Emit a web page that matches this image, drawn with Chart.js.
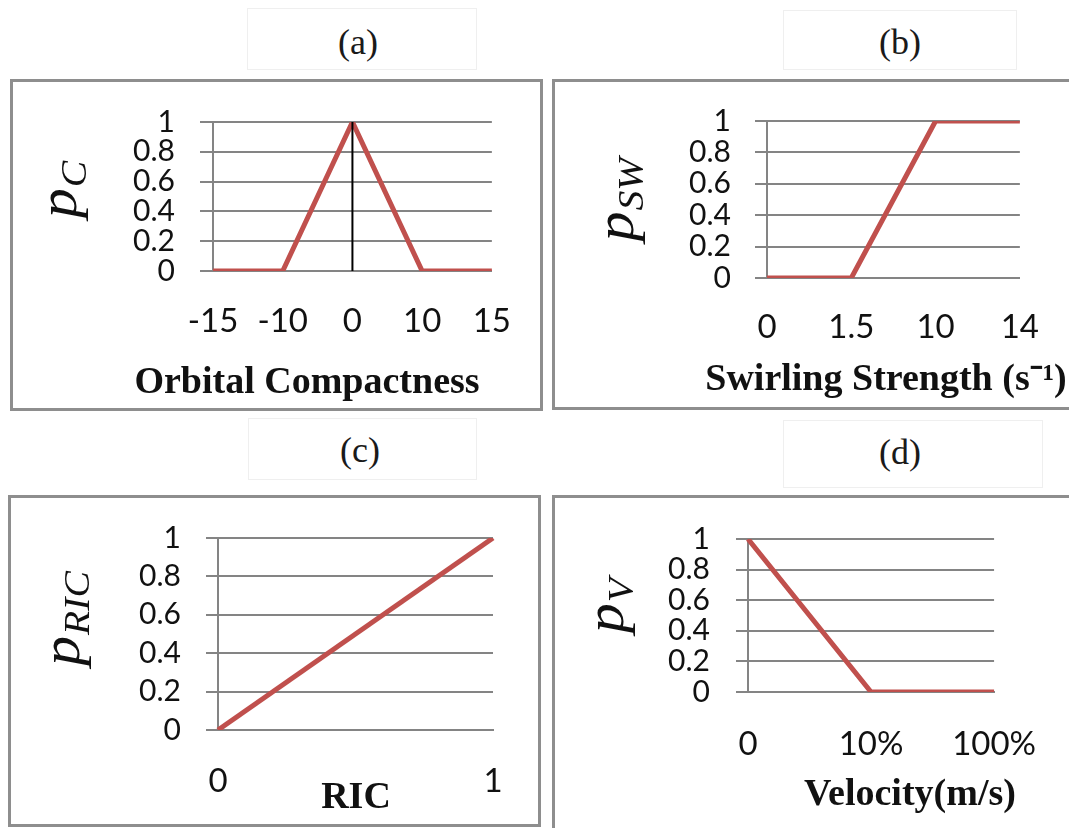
<!DOCTYPE html>
<html>
<head>
<meta charset="utf-8">
<script src="https://cdn.jsdelivr.net/npm/chart.js@4.4.1/dist/chart.umd.min.js"></script>
<style>
  html, body { margin: 0; padding: 0; background: #fff; width: 1069px; height: 828px; overflow: hidden; position: relative; }
  .cv { position: absolute; }
  .frame { position: absolute; box-sizing: border-box; border: 3px solid #8e8e8e; pointer-events: none; }
  .faint { position: absolute; box-sizing: border-box; border: 1px solid #efefef; }
  .lab { position: absolute; font-family: "Liberation Serif", "Times New Roman", serif; font-size: 36px; color: #1a1a1a;
         transform: translate(-50%, -50%); white-space: nowrap; line-height: 1; }
</style>
</head>
<body>
<div class="faint" style="left:247px;top:8px;width:230px;height:62px;"></div>
<div class="faint" style="left:783px;top:10px;width:234px;height:60px;"></div>
<div class="faint" style="left:248px;top:418px;width:229px;height:62px;"></div>
<div class="faint" style="left:783px;top:420px;width:260px;height:68px;"></div>
<div class="lab" style="left:358px;top:42px;">(a)</div>
<div class="lab" style="left:900px;top:42px;">(b)</div>
<div class="lab" style="left:360px;top:450px;">(c)</div>
<div class="lab" style="left:900px;top:452px;">(d)</div>

<canvas id="cA" class="cv" style="left:10px;top:79px;" width="532" height="331"></canvas>
<canvas id="cB" class="cv" style="left:552px;top:79px;" width="517" height="330"></canvas>
<canvas id="cC" class="cv" style="left:8px;top:495px;" width="532" height="331"></canvas>
<canvas id="cD" class="cv" style="left:552px;top:495px;" width="517" height="333"></canvas>

<div class="frame" style="left:10px;top:79px;width:533px;height:332px;"></div>
<div class="frame" style="left:552px;top:79px;width:540px;height:331px;"></div>
<div class="frame" style="left:8px;top:495px;width:533px;height:332px;"></div>
<div class="frame" style="left:552px;top:495px;width:540px;height:360px;"></div>

<script>
// ---------- data ----------
const yTickLabels = ['0', '0.2', '0.4', '0.6', '0.8', '1'];

const compactnessLabels = ['-15', '-10', '0', '10', '15'];
const compactnessP = [0, 0, 1, 0, 0];
const compactnessMarkX = ['0', '0'];
const compactnessMarkY = [0, 1];

const swirlLabels = ['0', '1.5', '10', '14'];
const swirlP = [0, 0, 1, 1];

const ricLabels = ['0', '1'];
const ricP = [0, 1];

const velocityLabels = ['0', '10%', '100%'];
const velocityP = [1, 0, 0];

// ---------- styling ----------
const RED = '#c0504d';
const GRID = '#848484';

const textPlugin = {
  id: 'panelText',
  afterDraw(chart, args, o) {
    const ctx = chart.ctx;
    // x-axis title
    ctx.save();
    ctx.font = 'bold 38px "Liberation Serif", "Times New Roman", serif';
    ctx.fillStyle = '#111';
    ctx.textAlign = 'center';
    ctx.textBaseline = 'middle';
    ctx.fillText(o.xTitle, o.xTitleX, o.xTitleY);
    ctx.restore();
    // y-axis title with subscript, rotated
    ctx.save();
    ctx.translate(o.yTitleX, o.yTitleY);
    ctx.rotate(-Math.PI / 2);
    ctx.scale(1.1, 1);
    ctx.fillStyle = '#111';
    ctx.textBaseline = 'alphabetic';
    ctx.textAlign = 'left';
    const size = 54, sub = 36;
    const mainFont = 'italic ' + size + 'px "Liberation Serif", "Times New Roman", serif';
    const subFont = 'italic ' + sub + 'px "Liberation Serif", "Times New Roman", serif';
    ctx.font = mainFont; const w1 = ctx.measureText(o.yMain).width;
    ctx.font = subFont; const w2 = ctx.measureText(o.ySub).width;
    const x0 = -(w1 + w2) / 2;
    const base = size * 0.12;
    ctx.font = mainFont; ctx.fillText(o.yMain, x0, base);
    ctx.font = subFont; ctx.fillText(o.ySub, x0 + w1 + 1, base + size * 0.17);
    ctx.restore();
  }
};

function makePanel(canvasId, g, labels, datasets, t) {
  const W = g.W, H = g.H;
  return new Chart(document.getElementById(canvasId), {
    type: 'line',
    data: { labels: labels, datasets: datasets },
    options: {
      responsive: false,
      animation: false,
      devicePixelRatio: 1,
      layout: { padding: { top: g.T, right: W - g.R, left: 0, bottom: 0 } },
      plugins: {
        legend: { display: false },
        tooltip: { enabled: false },
        panelText: t
      },
      elements: { point: { radius: 0 }, line: { tension: 0 } },
      scales: {
        x: {
          type: 'category',
          offset: false,
          grid: { display: false, drawTicks: false },
          border: { display: true, color: GRID, width: 2 },
          ticks: {
            autoSkip: false, maxRotation: 0, minRotation: 0,
            padding: g.xPad, color: '#111',
            font: { family: 'Lato', size: 33 }
          },
          afterFit(s) { s.height = H - g.B; }
        },
        y: {
          min: 0, max: 1,
          grid: { color: GRID, lineWidth: 2, drawTicks: true, tickLength: g.tl },
          border: { display: true, color: GRID, width: 2 },
          ticks: {
            stepSize: 0.2, autoSkip: false, padding: g.yPad, color: '#111',
            font: { family: 'Lato', size: 30 },
            callback: (v, i) => yTickLabels[i]
          },
          afterFit(s) { s.width = g.L; }
        }
      }
    },
    plugins: [textPlugin]
  });
}

function redLine(values) {
  return { data: values, borderColor: RED, borderWidth: 5, pointRadius: 0, fill: false };
}

function build() {
  makePanel('cA', { W: 532, H: 331, L: 203, R: 490, T: 34, B: 192, tl: 13, yPad: 25, xPad: 31 },
    compactnessLabels,
    [
      { data: compactnessMarkX.map((x, i) => ({ x: x, y: compactnessMarkY[i] })), borderColor: '#000', borderWidth: 2, pointRadius: 0 },
      redLine(compactnessP)
    ],
    { xTitle: 'Orbital Compactness', xTitleX: 297, xTitleY: 304, yMain: 'p', ySub: 'C', yTitleX: 60, yTitleY: 111 });

  makePanel('cB', { W: 517, H: 330, L: 215, R: 484, T: 34, B: 199, tl: 12, yPad: 24, xPad: 30 },
    swirlLabels, [redLine(swirlP)],
    { xTitle: 'Swirling Strength (s\u207B\u00B9)', xTitleX: 334, xTitleY: 301, yMain: 'p', ySub: 'SW', yTitleX: 75, yTitleY: 121 });

  makePanel('cC', { W: 532, H: 331, L: 210, R: 485, T: 38, B: 235, tl: 12, yPad: 25, xPad: 32 },
    ricLabels, [redLine(ricP)],
    { xTitle: 'RIC', xTitleX: 348, xTitleY: 303, yMain: 'p', ySub: 'RIC', yTitleX: 65, yTitleY: 124 });

  makePanel('cD', { W: 517, H: 333, L: 196, R: 460, T: 37, B: 197, tl: 12, yPad: 26, xPad: 33 },
    velocityLabels, [redLine(velocityP)],
    { xTitle: 'Velocity(m/s)', xTitleX: 358, xTitleY: 300, yMain: 'p', ySub: 'V', yTitleX: 65, yTitleY: 111 });
}

Promise.all([
  document.fonts.load('28px Lato'),
  document.fonts.load('bold 38px "Liberation Serif"'),
  document.fonts.load('italic 54px "Liberation Serif"')
]).then(build, build);
</script>
</body>
</html>
